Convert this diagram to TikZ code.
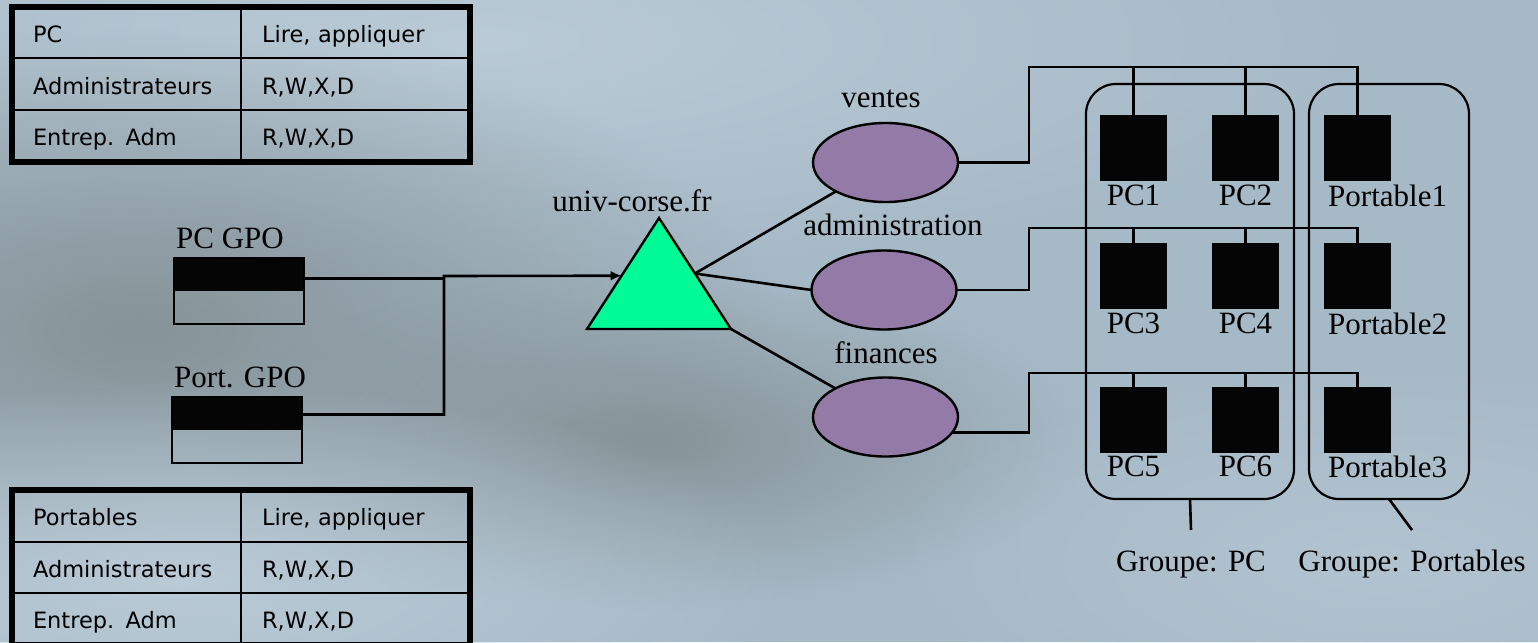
\documentclass[tikz,border=0pt]{standalone}
\usepackage{fontspec}
\setmainfont{Liberation Serif}
\newfontfamily\cellfont{DejaVu Sans}
\usepackage{tikz}
\usetikzlibrary{shapes.geometric, arrows.meta, positioning, calc, fadings}
\definecolor{bgblue}{RGB}{166,185,198}
\definecolor{bglight}{RGB}{186,203,215}
\definecolor{bggrey}{RGB}{134,147,152}
\definecolor{domaingreen}{RGB}{0,250,150}
\definecolor{ouviolet}{RGB}{148,122,166}
\tikzfading[name=blob, inner color=transparent!0, outer color=transparent!100]

\begin{document}
\begin{tikzpicture}[x=1pt, y=-1pt, font=\fontsize{31}{36}\selectfont]
    % Styles
    \tikzstyle{cell} = [draw, line width=2pt, minimum height=51.5pt, inner xsep=21pt, inner ysep=0pt, outer sep=0pt, text width=187pt, text height=22pt, text depth=2pt, align=left, font=\cellfont\fontsize{22.5}{26}\selectfont]
    \tikzstyle{frame} = [line width=6pt]
    \tikzstyle{gpo} = [draw, line width=2pt, minimum width=130pt, minimum height=66pt, inner sep=0pt, outer sep=0pt, path picture={\fill[black!98] (path picture bounding box.north west) rectangle (path picture bounding box.east);}]
    \tikzstyle{ou} = [ellipse, draw, line width=2.4pt, fill=ouviolet, minimum width=145pt, minimum height=79pt, inner sep=0pt, outer sep=0pt]
    \tikzstyle{poste} = [fill=black!98, minimum width=67pt, minimum height=66pt, inner sep=0pt, outer sep=0pt]
    \tikzstyle{portlabel} = [anchor=north west, inner xsep=4pt]
    \tikzstyle{groupe} = [draw, rounded corners=30pt, line width=2.2pt, minimum height=415pt, inner sep=0pt, outer sep=0pt]
    \tikzstyle{tag} = [inner sep=0pt]
    \tikzstyle{wire} = [line width=2.6pt]
    \tikzstyle{arrow} = [wire, -{Latex[length=11pt, width=10pt]}]

    % Background
    \useasboundingbox (0,0) rectangle (1538,642);
    \begin{scope}
        \clip (0,0) rectangle (1538,642);
        \fill[bgblue] (0,0) rectangle (1538,642);
        \fill[bglight, path fading=blob] (480,40) ellipse [x radius=900pt, y radius=240pt];
        \fill[bggrey, path fading=blob] (140,330) ellipse [x radius=640pt, y radius=300pt];
        \fill[bggrey, path fading=blob] (650,440) ellipse [x radius=440pt, y radius=170pt];
        \fill[bglight, path fading=blob] (180,580) ellipse [x radius=620pt, y radius=200pt];
        \fill[bglight, path fading=blob, opacity=0.6] (1380,560) ellipse [x radius=500pt, y radius=200pt];
    \end{scope}

    % Tables
    \node[cell, anchor=north west] (pcA1) at (12,7) {PC};
    \node[cell, right=0pt of pcA1] (pcB1) {Lire, appliquer};
    \node[cell, below=0pt of pcA1] (pcA2) {Administrateurs};
    \node[cell, right=0pt of pcA2] (pcB2) {R,W,X,D};
    \node[cell, below=0pt of pcA2] (pcA3) {Entrep. Adm};
    \node[cell, right=0pt of pcA3] (pcB3) {R,W,X,D};
    \draw[frame] (pcA1.north west) rectangle (pcB3.south east);

    \node[cell, anchor=north west] (portA1) at (12,490) {Portables};
    \node[cell, right=0pt of portA1] (portB1) {Lire, appliquer};
    \node[cell, below=0pt of portA1] (portA2) {Administrateurs};
    \node[cell, right=0pt of portA2] (portB2) {R,W,X,D};
    \node[cell, below=0pt of portA2] (portA3) {Entrep. Adm};
    \node[cell, right=0pt of portA3] (portB3) {R,W,X,D};
    \draw[frame] (portA1.north west) rectangle (portB3.south east);

    % GPO
    \node[gpo] (pcgpo) at (239,291) {};
    \node[tag, anchor=base west] (pcgpolabel) at (176,248) {PC GPO};
    \node[gpo] (portgpo) at (237,429.5) {};
    \node[tag, anchor=base west] (portgpolabel) at (174,387) {Port. GPO};

    % Domain
    \coordinate (univtop) at (659,218);
    \coordinate (univleft) at (587,329);
    \coordinate (univright) at (731,329);
    \filldraw[fill=domaingreen, line width=2.4pt, line join=miter] (univtop) -- (univright) -- (univleft) -- cycle;
    \coordinate (univin) at ($(univtop)!0.52!(univleft)$);
    \coordinate (univout) at ($(univtop)!0.5!(univright)$);
    \node[tag, anchor=base] (univlabel) at (632,211) {univ-corse.fr};

    % OU
    \node[ou] (ventes) at (885.5,162.5) {};
    \node[tag, anchor=base] (venteslabel) at (881,107) {ventes};
    \node[ou] (admin) at (884,290) {};
    \node[tag, anchor=base] (adminlabel) at (893,235) {administration};
    \node[ou] (finances) at (885.5,417) {};
    \node[tag, anchor=base] (financeslabel) at (886,363) {finances};

    % Postes
    \node[poste, label=below:PC1] (pc1) at (1133.5,148) {};
    \node[poste, label=below:PC2] (pc2) at (1245.5,148) {};
    \node[poste, label={[portlabel]south west:Portable1}] (port1) at (1357.5,148) {};
    \node[poste, label=below:PC3] (pc3) at (1133.5,276) {};
    \node[poste, label=below:PC4] (pc4) at (1245.5,276) {};
    \node[poste, label={[portlabel]south west:Portable2}] (port2) at (1357.5,276) {};
    \node[poste, label=below:PC5] (pc5) at (1133.5,419.5) {};
    \node[poste, label=below:PC6] (pc6) at (1245.5,419.5) {};
    \node[poste, label={[portlabel]south west:Portable3}] (port3) at (1357.5,419.5) {};

    % Groupes
    \node[groupe, minimum width=208pt] (grppc) at (1190,291.5) {};
    \node[groupe, minimum width=160pt] (grpport) at (1389,291.5) {};
    \coordinate (stubpc) at (1191,530);
    \coordinate (stubport) at (1412,530);
    \node[tag, anchor=base] (grppclabel) at (1191,571) {Groupe: PC};
    \node[tag, anchor=base] (grpportlabel) at (1412,571) {Groupe: Portables};

    % Links
    \coordinate (join) at (444,276);
    \draw[wire] (pcgpo.11) -- (pcgpo.11 -| join);
    \draw[arrow] (portgpo.13) -| (join) -- (univin);
    \draw[wire] (univout) -- (ventes);
    \draw[wire] (univout) -- (admin.west);
    \draw[wire] (univright) -- (finances);

    \coordinate (busv) at (1029,67);
    \coordinate (busa) at (1029,228);
    \coordinate (busf) at (1029,373);
    \draw[wire] (ventes.east) -| (busv) -- (busv -| port1.north) -- (port1.north);
    \draw[wire] (admin.east) -| (busa) -- (busa -| port2.north) -- (port2.north);
    \draw[wire] (finances.-13) -| (busf) -- (busf -| port3.north) -- (port3.north);
    \foreach \p in {pc1,pc2} \draw[wire] (\p.north) -- (\p.north |- busv);
    \foreach \p in {pc3,pc4} \draw[wire] (\p.north) -- (\p.north |- busa);
    \foreach \p in {pc5,pc6} \draw[wire] (\p.north) -- (\p.north |- busf);

    \draw[wire] (grppc.south) -- (stubpc);
    \draw[wire] (grpport.south) -- (stubport);
\end{tikzpicture}
\end{document}
